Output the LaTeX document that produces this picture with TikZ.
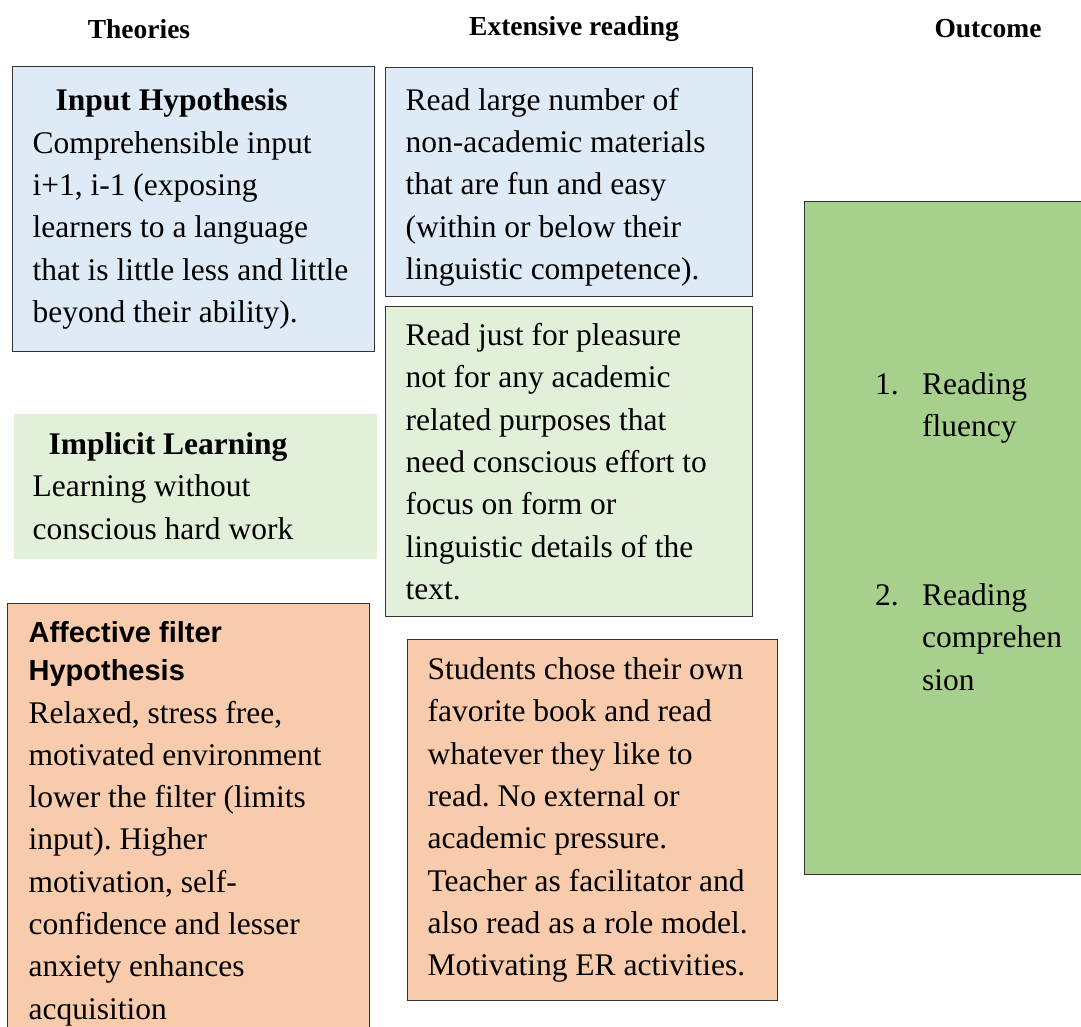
\documentclass[tikz,border=0pt]{standalone}
\usepackage{fontspec}
\setmainfont{Liberation Serif}
\setsansfont{Liberation Sans}
\usepackage{tikz}
\frenchspacing

\definecolor{inblue}{HTML}{DEEAF6}
\definecolor{palegreen}{HTML}{E2EFD9}
\definecolor{peach}{HTML}{F8CBAD}
\definecolor{outgreen}{HTML}{A8D08D}
\newcommand{\bodyfont}{\fontsize{31.5}{42.3}\selectfont}
\newcommand{\afftitle}{\sffamily\bfseries\fontsize{29}{38}\selectfont}
\newcommand{\nsp}{\spaceskip=0pt\xspaceskip=0pt\relax}

\begin{document}
\begin{tikzpicture}[x=1pt,y=-1pt]
\tikzstyle{every node}=[font=\bodyfont]
\tikzstyle{box}=[anchor=north west,draw=black!80,line width=1.2pt,align=left,inner xsep=20pt,inner ysep=0pt]
\tikzstyle{head}=[font=\fontsize{27.5}{30}\selectfont\bfseries]
\useasboundingbox (0,0) rectangle (1081,1026);

% column headings
\node[head] (theo) at (139,29) {Theories};
\node[head] (extr) at (574,29) {Extensive reading};
\node[head] (outh) at (988,29) {Outcome};

% theories
\node[box,fill=inblue,text width=322pt,minimum height=285pt] (inhyp) at (12,66)
 {\nsp\hspace*{23pt}\textbf{Input Hypothesis}\\Comprehensible input\\i+1, i-1 (exposing\\learners to a language\\that is little less and little\\beyond their ability).};
\node[box,draw=none,fill=palegreen,inner xsep=19pt,text width=325pt,minimum height=145pt] (implic) at (13,413)
 {\nsp\hspace*{16pt}\textbf{Implicit Learning}\\Learning without\\conscious hard work};
\node[box,fill=peach,inner xsep=21pt,text width=320pt,minimum height=440pt] (affect) at (7,603)
 {\nsp{\afftitle Affective filter}\\[-4pt]{\afftitle Hypothesis}\\Relaxed, stress free,\\motivated environment\\lower the filter (limits\\input). Higher\\motivation, self-\\confidence and lesser\\anxiety enhances\\acquisition};

% extensive reading
\node[box,fill=inblue,text width=327pt,minimum height=229pt] (erread) at (385,67)
 {\nsp\rule{0pt}{32pt}Read large number of\\non-academic materials\\that are fun and easy\\(within or below their\\linguistic competence).};
\node[box,fill=palegreen,text width=327pt,minimum height=310pt] (erfun) at (385,306)
 {\nsp Read just for pleasure\\not for any academic\\related purposes that\\need conscious effort to\\focus on form or\\linguistic details of the\\text.};
\node[box,fill=peach,text width=330pt,minimum height=361pt] (erchoose) at (407,639)
 {\nsp Students chose their own\\favorite book and read\\whatever they like to\\read. No external or\\academic pressure.\\Teacher as facilitator and\\also read as a role model.\\Motivating ER activities.};

% outcome
\node[box,fill=outgreen,inner xsep=0pt,minimum width=290pt,minimum height=673pt] (outc) at (804,201) {};
\node[anchor=north west,align=left,inner sep=0pt] (outtxt) at (875,372)
 {\makebox[47pt][l]{1.}Reading\\\hspace*{47pt}fluency\\[127pt]\makebox[47pt][l]{2.}Reading\\\hspace*{47pt}comprehen\\\hspace*{47pt}sion};

\end{tikzpicture}
\end{document}
